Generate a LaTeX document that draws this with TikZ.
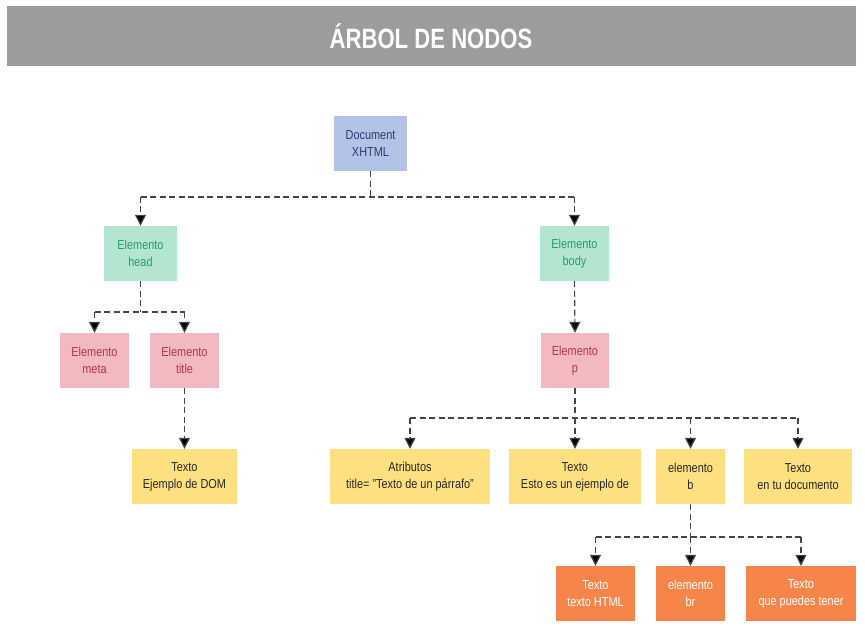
\documentclass[tikz,border=0pt]{standalone}
\usepackage{fontspec}
\setmainfont[FakeStretch=0.84]{Liberation Sans}
\newfontfamily\titlefont[FakeStretch=0.79]{Liberation Sans}
\usepackage{tikz}
\usetikzlibrary{arrows.meta, positioning, calc}
\definecolor{barGray}{HTML}{9D9B9B}
\definecolor{blueFill}{HTML}{B4C2E8}
\definecolor{blueText}{HTML}{2F3B70}
\definecolor{greenFill}{HTML}{B3E6D0}
\definecolor{greenText}{HTML}{2C9A6B}
\definecolor{pinkFill}{HTML}{F2B9C1}
\definecolor{pinkText}{HTML}{B5334F}
\definecolor{yellowFill}{HTML}{FFE080}
\definecolor{orangeFill}{HTML}{F6854A}
\definecolor{lineGray}{HTML}{454545}
\tikzset{
    boxNode/.style={
        rectangle,
        inner sep=0pt,
        minimum height=55pt,
        align=center,
        font=\fontsize{13}{17}\selectfont
    },
    blueNode/.style={boxNode, fill=blueFill, text=blueText},
    greenNode/.style={boxNode, fill=greenFill, text=greenText},
    pinkNode/.style={boxNode, fill=pinkFill, text=pinkText},
    yellowNode/.style={boxNode, fill=yellowFill, text=black!85},
    orangeNode/.style={boxNode, fill=orangeFill, text=white},
    treeLine/.style={
        draw=lineGray,
        line width=1.2pt,
        dash pattern=on 6pt off 3.5pt
    },
    treeArrow/.style={
        treeLine,
        -{Triangle[length=11pt, width=11pt, fill=black]}
    }
}

\begin{document}
\begin{tikzpicture}[x=1pt, y=-1pt]
        \useasboundingbox (0,0) rectangle (865,631);

        % Title bar
        \fill[barGray] (7,6) rectangle (856,66);
        \node[text=white, font=\titlefont\bfseries\fontsize{28}{28}\selectfont] (banner) at (431,36) {ÁRBOL DE NODOS};

        % Nodes
        \node[blueNode, minimum width=73pt] (doc) at (370.5,143.5) {Document\\XHTML};

        \node[greenNode, minimum width=73pt] (head) at (140.5,253.5) {Elemento\\head};
        \node[greenNode, minimum width=69pt] (body) at (574.5,253.5) {Elemento\\body};

        \node[pinkNode, minimum width=69pt] (meta) at (94.5,360.5) {Elemento\\meta};
        \node[pinkNode, minimum width=69pt] (title) at (184.5,360.5) {Elemento\\title};
        \node[pinkNode, minimum width=68pt] (para) at (575,360.5) {Elemento\\p};

        \node[yellowNode, minimum width=105pt] (dom) at (184.5,476.5) {Texto\\Ejemplo de DOM};
        \node[yellowNode, minimum width=160pt] (attr) at (410,476.5) {Atributos\\title= "Texto de un párrafo"};
        \node[yellowNode, minimum width=132pt] (esto) at (575,476.5) {Texto\\Esto es un ejemplo de};
        \node[yellowNode, minimum width=69pt] (bold) at (690.5,476.5) {elemento\\b};
        \node[yellowNode, minimum width=108pt] (tudoc) at (798,476.5) {Texto\\en tu documento};

        \node[orangeNode, minimum width=79pt] (html) at (595.5,593.5) {Texto\\texto HTML};
        \node[orangeNode, minimum width=69pt] (brk) at (690.5,593.5) {elemento\\br};
        \node[orangeNode, minimum width=110pt] (puedes) at (801,593.5) {Texto\\que puedes tener};

        % Junction points
        \coordinate (jDoc) at (doc.south |- 0,197);
        \coordinate (jHead) at (head.south |- 0,312);
        \coordinate (jPara) at (para.south |- 0,418);
        \coordinate (jBold) at (bold.south |- 0,537);

        % Document -> head, body
        \draw[treeLine] (doc.south) -- (jDoc);
        \draw[treeLine] (head.north |- jDoc) -- (body.north |- jDoc);
        \foreach \n in {head, body}
            \draw[treeArrow] (\n.north |- jDoc) -- (\n.north);

        % head -> meta, title -> texto
        \draw[treeLine] (head.south) -- (jHead);
        \draw[treeLine] (meta.north |- jHead) -- (title.north |- jHead);
        \foreach \n in {meta, title}
            \draw[treeArrow] (\n.north |- jHead) -- (\n.north);
        \draw[treeArrow] (title.south) -- (dom.north);

        % body -> p
        \draw[treeArrow] (body.south) -- (para.north);

        % p -> children
        \draw[treeLine] (para.south) -- (jPara);
        \draw[treeLine] (attr.north |- jPara) -- (tudoc.north |- jPara);
        \foreach \n in {attr, esto, bold, tudoc}
            \draw[treeArrow] (\n.north |- jPara) -- (\n.north);

        % b -> children
        \draw[treeLine] (bold.south) -- (jBold);
        \draw[treeLine] (html.north |- jBold) -- (puedes.north |- jBold);
        \foreach \n in {html, brk, puedes}
            \draw[treeArrow] (\n.north |- jBold) -- (\n.north);

\end{tikzpicture}
\end{document}
